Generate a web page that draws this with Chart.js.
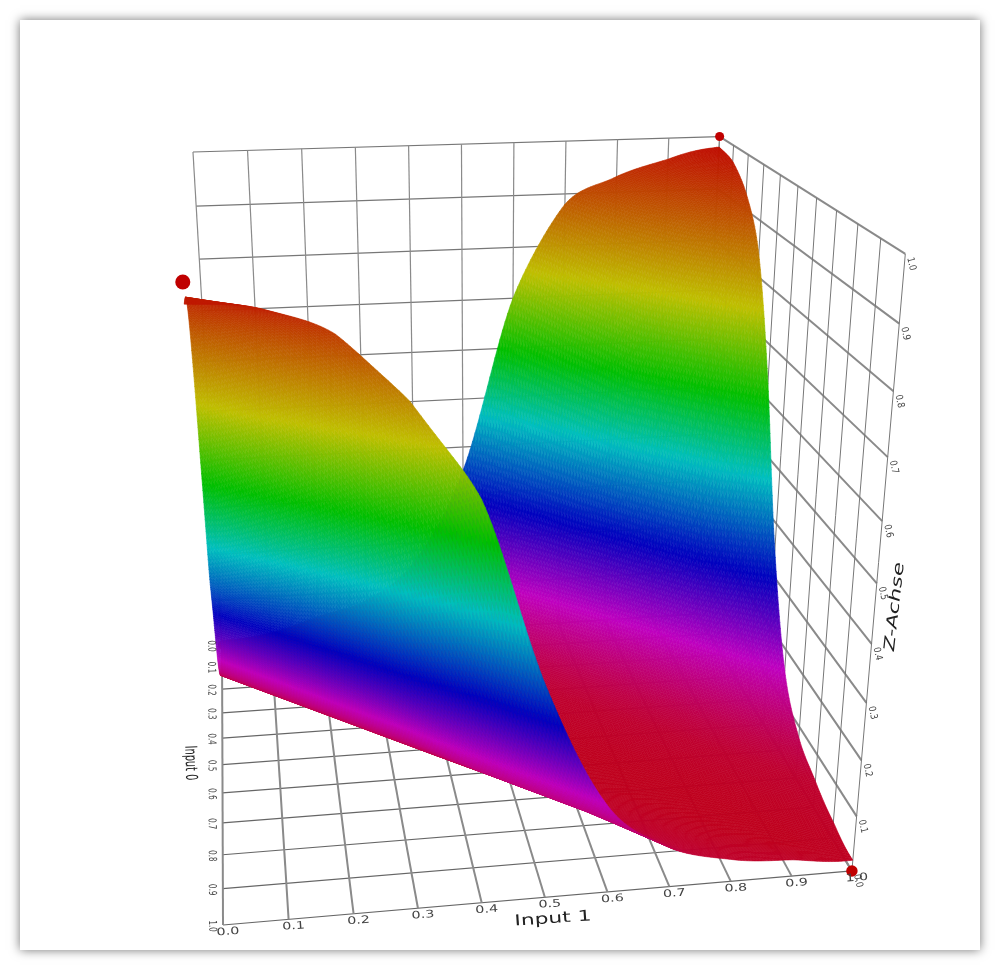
<!DOCTYPE html>
<html>
<head>
<meta charset="utf-8">
<title>Input 0 / Input 1 surface</title>
<script src="https://cdn.jsdelivr.net/npm/chart.js@4"></script>
<style>
    html, body { margin: 0; padding: 0; background: #fff; overflow: hidden; }
    .card { position: absolute; left: 20px; top: 20px; width: 960px; height: 930px; background: #fff; box-shadow: 0 0 10px rgba(0, 0, 0, 0.55); }
    #surfaceChart { position: absolute; left: 0; top: 0; }
</style>
</head>
<body>
<div class="card"></div>
<canvas id="surfaceChart" width="1000" height="971"></canvas>
<script>
const input1Ticks = [0.0, 0.1, 0.2, 0.3, 0.4, 0.5, 0.6, 0.7, 0.8, 0.9, 1.0];
const input0Ticks = [0.0, 0.1, 0.2, 0.3, 0.4, 0.5, 0.6, 0.7, 0.8, 0.9, 1.0];
const zTicks = [0.0, 0.1, 0.2, 0.3, 0.4, 0.5, 0.6, 0.7, 0.8, 0.9, 1.0];

// one row per input0 tick, one column per input1 tick
const zValues = [
    [0.01, 0.02, 0.05, 0.08, 0.16, 0.35, 0.70, 0.88, 0.93, 0.96, 0.98],
    [0.02, 0.01, 0.02, 0.05, 0.08, 0.16, 0.34, 0.66, 0.85, 0.92, 0.97],
    [0.04, 0.02, 0.01, 0.02, 0.05, 0.08, 0.16, 0.33, 0.63, 0.84, 0.93],
    [0.08, 0.04, 0.02, 0.01, 0.02, 0.05, 0.08, 0.16, 0.33, 0.63, 0.84],
    [0.16, 0.08, 0.04, 0.02, 0.01, 0.02, 0.05, 0.08, 0.16, 0.33, 0.63],
    [0.29, 0.16, 0.08, 0.04, 0.02, 0.01, 0.02, 0.05, 0.08, 0.16, 0.35],
    [0.42, 0.30, 0.16, 0.08, 0.04, 0.02, 0.01, 0.02, 0.05, 0.08, 0.16],
    [0.65, 0.47, 0.31, 0.16, 0.08, 0.04, 0.02, 0.01, 0.02, 0.05, 0.08],
    [0.85, 0.70, 0.53, 0.32, 0.15, 0.08, 0.04, 0.02, 0.01, 0.02, 0.05],
    [0.95, 0.89, 0.76, 0.60, 0.35, 0.15, 0.08, 0.04, 0.02, 0.01, 0.03],
    [0.97, 0.96, 0.92, 0.82, 0.67, 0.36, 0.15, 0.07, 0.04, 0.03, 0.02]
];

// the four training points: input1, input0, z
const hiddenPoints = [[0, 0, 0]];
const cornerPoints = [[0, 1, 1], [1, 0, 1], [1, 1, 0]];

// colour ramp: z level to hue
const rampLevels = [0.0, 0.05, 0.16, 0.30, 0.47, 0.60, 0.75, 1.0];
const rampHues = [352, 345, 300, 240, 180, 120, 60, 0];

// perspective camera, fitted to the corners of the box
const camera = {
    origin: [222, 645],
    x: [500.2, -9],
    y: [-55.5, 45.6],
    z: [-48.2, -508.1],
    w: [0.036, -0.2534, -0.0994]
};

function depth(x, y, z) {
    return 1 + camera.w[0] * x + camera.w[1] * y + camera.w[2] * z;
}

function project(x, y, z) {
    const w = depth(x, y, z);
    return {
        x: (camera.x[0] * x + camera.y[0] * y + camera.z[0] * z + camera.origin[0]) / w,
        y: (camera.x[1] * x + camera.y[1] * y + camera.z[1] * z + camera.origin[1]) / w
    };
}

function catmull(a, b, c, d, t) {
    return b + 0.5 * t * (c - a + t * (2 * a - 5 * b + 4 * c - d + t * (3 * (b - c) + d - a)));
}

// value on one diagonal of the table (row - col = k) at position s = col + row
function diagonalValue(k, s) {
    const n = zValues.length - 1;
    const kk = Math.max(-n, Math.min(n, k));
    const lo = Math.max(0, -kk), hi = Math.min(n, n - kk);
    const i = Math.max(lo, Math.min(hi, (s - kk) / 2));
    const i0 = Math.floor(i), i1 = Math.min(hi, i0 + 1);
    return zValues[i0 + kk][i0] + (i - i0) * (zValues[i1 + kk][i1] - zValues[i0 + kk][i0]);
}

// smooth reading of the table between its ticks, only used to shade the mesh.
// the ridges run along the diagonals, so it reads across them
function surfaceZ(x, y) {
    const n = zValues.length - 1;
    const fx = x * n, fy = y * n;
    const d = fy - fx, s = fx + fy;
    const k = Math.floor(d);
    const z = catmull(diagonalValue(k - 1, s), diagonalValue(k, s), diagonalValue(k + 1, s), diagonalValue(k + 2, s), d - k);
    return Math.max(0, Math.min(1, z));
}

function zColor(z) {
    let i = 0;
    while (i < rampLevels.length - 2 && z > rampLevels[i + 1]) i++;
    const t = (z - rampLevels[i]) / (rampLevels[i + 1] - rampLevels[i]);
    const hue = rampHues[i] + t * (rampHues[i + 1] - rampHues[i]);
    return `hsl(${hue}, 100%, 37.5%)`;
}

const surfacePlugin = {
    id: 'surface',
    beforeDatasetDraw(chart, args) {
        if (chart.data.datasets[args.index].label !== 'corners') return;
        const ctx = chart.ctx;
        const sx = chart.scales.x, sy = chart.scales.y;
        const steps = 200;
        const cells = [];
        for (let j = 0; j < steps; j++) {
            for (let i = 0; i < steps; i++) {
                const x0 = i / steps, x1 = (i + 1) / steps, y0 = j / steps, y1 = (j + 1) / steps;
                const zs = [surfaceZ(x0, y0), surfaceZ(x1, y0), surfaceZ(x1, y1), surfaceZ(x0, y1)];
                const zMid = (zs[0] + zs[1] + zs[2] + zs[3]) / 4;
                cells.push({
                    w: depth((x0 + x1) / 2, (y0 + y1) / 2, zMid),
                    color: zColor(zMid),
                    pts: [project(x0, y0, zs[0]), project(x1, y0, zs[1]), project(x1, y1, zs[2]), project(x0, y1, zs[3])]
                });
            }
        }
        cells.sort((a, b) => b.w - a.w);
        ctx.save();
        ctx.lineWidth = 0.6;
        cells.forEach(cell => {
            ctx.beginPath();
            cell.pts.forEach((p, k) => {
                const px = sx.getPixelForValue(p.x), py = sy.getPixelForValue(p.y);
                if (k === 0) ctx.moveTo(px, py); else ctx.lineTo(px, py);
            });
            ctx.closePath();
            ctx.fillStyle = cell.color;
            ctx.strokeStyle = cell.color;
            ctx.fill();
            ctx.stroke();
        });
        ctx.restore();
    }
};

function drawLabel(ctx, text, px, py, angle, scaleX, scaleY, font, color, skew) {
    ctx.save();
    ctx.translate(px, py);
    ctx.rotate(angle);
    ctx.transform(1, 0, skew || 0, 1, 0, 0);
    ctx.scale(scaleX, scaleY);
    ctx.font = font;
    ctx.fillStyle = color;
    ctx.textAlign = 'center';
    ctx.textBaseline = 'middle';
    ctx.fillText(text, 0, 0);
    ctx.restore();
}

const labelPlugin = {
    id: 'axisLabels',
    afterDatasetsDraw(chart) {
        const ctx = chart.ctx;
        const sx = chart.scales.x, sy = chart.scales.y;
        const tickFont = '11px "DejaVu Sans"';
        input1Ticks.forEach(v => {
            const p = project(v, 1, 0);
            drawLabel(ctx, v.toFixed(1), sx.getPixelForValue(p.x) + 5, sy.getPixelForValue(p.y) + 7,
                -0.07, 1.3, 0.95, tickFont, '#444');
        });
        input0Ticks.forEach(v => {
            const p = project(0, v, 0);
            drawLabel(ctx, v.toFixed(1), sx.getPixelForValue(p.x) - 11, sy.getPixelForValue(p.y) + 1,
                Math.PI / 2 - 0.03, 0.65, 1.0, tickFont, '#444');
        });
        zTicks.forEach(v => {
            const p = project(1, 1, v);
            drawLabel(ctx, v.toFixed(1), sx.getPixelForValue(p.x) + 6, sy.getPixelForValue(p.y) + 10,
                1.35, 0.76, 0.9, tickFont, '#444');
        });
        drawLabel(ctx, 'Input 1', 553, 919, -0.07, 1.45, 1.0, '15px "DejaVu Sans"', '#222');
        drawLabel(ctx, 'Input 0', 190, 763, Math.PI / 2 - 0.03, 0.65, 1.1, '15px "DejaVu Sans"', '#222');
        drawLabel(ctx, 'Z-Achse', 895, 607, -1.46, 1.5, 1.0, '15px "DejaVu Sans"', '#222', -0.2);
    }
};

function gridLine(ends, color, width) {
    return {
        label: 'grid',
        data: ends.map(e => project(e[0], e[1], e[2])),
        showLine: true,
        pointRadius: 0,
        borderColor: color,
        borderWidth: width,
        fill: false
    };
}

function buildGrid() {
    const lines = [];
    // floor
    input1Ticks.forEach(v => lines.push(gridLine([[v, 0, 0], [v, 1, 0]], '#8a8a8a', 2)));
    input0Ticks.forEach(v => lines.push(gridLine([[0, v, 0], [1, v, 0]], '#666', 1.2)));
    // back wall
    input1Ticks.forEach(v => lines.push(gridLine([[v, 0, 0], [v, 0, 1]], '#8a8a8a', 1.2)));
    zTicks.forEach(v => lines.push(gridLine([[0, 0, v], [1, 0, v]], '#777', 1.2)));
    // right wall
    input0Ticks.forEach(v => lines.push(gridLine([[1, v, 0], [1, v, 1]], '#777', 1)));
    zTicks.forEach(v => lines.push(gridLine([[1, 0, v], [1, 1, v]], '#8a8a8a', 2)));
    return lines;
}

function pointDataset(label, points) {
    return {
        label: label,
        data: points.map(p => project(p[0], p[1], p[2])),
        showLine: false,
        backgroundColor: '#c00000',
        borderWidth: 0,
        pointRadius: ctx => {
            const p = points[ctx.dataIndex];
            return p ? 1.8 + 2.4 / Math.pow(depth(p[0], p[1], p[2]), 2) : 0;
        }
    };
}

document.addEventListener('DOMContentLoaded', function () {
    const ctx = document.getElementById('surfaceChart').getContext('2d');
    new Chart(ctx, {
        type: 'scatter',
        data: {
            // first dataset is painted last
            datasets: [pointDataset('corners', cornerPoints), pointDataset('hidden', hiddenPoints)]
                .concat(buildGrid())
        },
        options: {
            responsive: false,
            animation: false,
            layout: { padding: 0, autoPadding: false },
            plugins: { legend: { display: false }, tooltip: { enabled: false } },
            scales: {
                x: { type: 'linear', min: 0, max: 1000, display: false },
                y: { type: 'linear', min: 0, max: 971, reverse: true, display: false }
            }
        },
        plugins: [surfacePlugin, labelPlugin]
    });
});
</script>
</body>
</html>
